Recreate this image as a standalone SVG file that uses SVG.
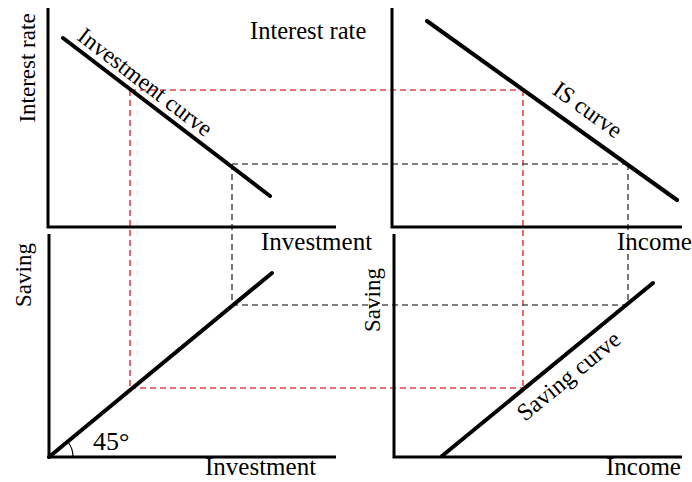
<svg xmlns="http://www.w3.org/2000/svg" width="692" height="482" viewBox="0 0 692 482">
  <style>
    .axis { stroke: #000; stroke-width: 3; fill: none; }
    .curve { stroke: #000; stroke-width: 4; fill: none; stroke-linecap: round; }
    .red { stroke: #e8414a; stroke-width: 1.6; stroke-dasharray: 6 4; fill: none; }
    .gray { stroke: #555; stroke-width: 1.6; stroke-dasharray: 6 4; fill: none; }
    text { font-family: "Liberation Serif", "Times New Roman", serif; fill: #000; }
  </style>
  <rect width="692" height="482" fill="#fff"/>

  <g id="guides">
    <path class="red" d="M130,90 H523 M130,90 V388 M523,90 V388 M130,388 H523"/>
    <path class="gray" d="M232,164 H628 M232,164 V305 M628,164 V305 M232,305 H628"/>
  </g>

  <g id="panel-investment">
    <path class="axis" d="M48,8 V227 H336"/>
    <line class="curve" x1="63" y1="38" x2="270" y2="196"/>
    <text x="35" y="68" font-size="23" text-anchor="middle" transform="rotate(-90 35 68)">Interest rate</text>
    <text x="76" y="39" font-size="23.5" transform="rotate(37.4 76 39)">Investment curve</text>
    <text x="261" y="250" font-size="25">Investment</text>
  </g>

  <g id="panel-is">
    <path class="axis" d="M392,8 V227 H682"/>
    <line class="curve" x1="427" y1="21" x2="677" y2="200"/>
    <text x="250" y="39" font-size="24.5">Interest rate</text>
    <text x="551" y="93" font-size="23.5" transform="rotate(35.6 551 93)">IS curve</text>
    <text x="617" y="250" font-size="25">Income</text>
  </g>

  <g id="panel-45">
    <path class="axis" d="M49,234 V457 H336"/>
    <line class="curve" x1="49" y1="457" x2="272" y2="273"/>
    <path d="M73,457 A24,24 0 0 0 68,442" fill="none" stroke="#000" stroke-width="1.2"/>
    <text x="93" y="450" font-size="26">45°</text>
    <text x="31" y="275" font-size="23" text-anchor="middle" transform="rotate(-90 31 275)">Saving</text>
    <text x="205" y="475" font-size="25">Investment</text>
  </g>

  <g id="panel-saving">
    <path class="axis" d="M394,234 V457 H682"/>
    <line class="curve" x1="442" y1="456" x2="653" y2="283"/>
    <text x="380" y="300" font-size="23" text-anchor="middle" transform="rotate(-90 380 300)">Saving</text>
    <text x="525" y="422" font-size="24" transform="rotate(-39.4 525 422)">Saving curve</text>
    <text x="606" y="475" font-size="25">Income</text>
  </g>
</svg>
